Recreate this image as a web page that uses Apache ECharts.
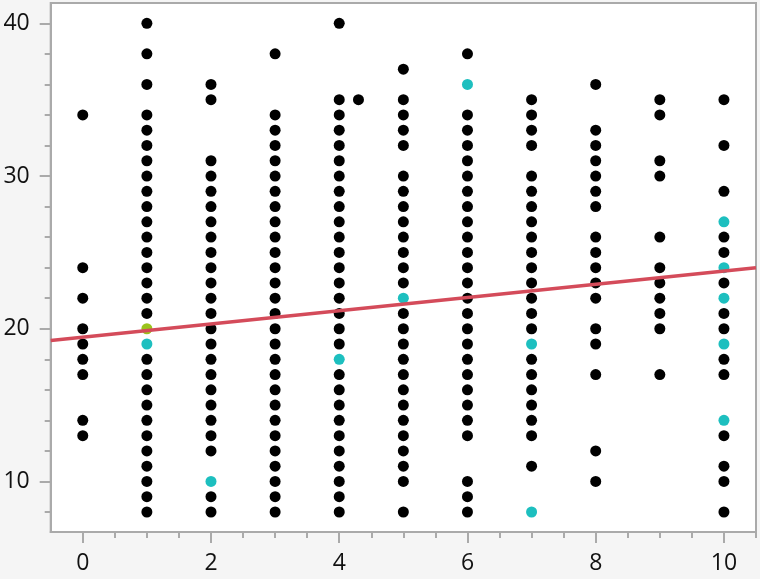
<!DOCTYPE html>
<html>
<head>
<meta charset="utf-8">
<script src="https://cdn.jsdelivr.net/npm/echarts@6/dist/echarts.min.js"></script>
<style>
    html, body { margin: 0; padding: 0; background: #f5f5f5; }
    #chart { width: 760px; height: 579px; }
</style>
</head>
<body>
<div id="chart"></div>
<script>
// black points, y values per x column
const col0 = [34, 24, 22, 20, 19, 18, 17, 14, 13];
const col1 = [40, 38, 36, 34, 33, 32, 31, 30, 29, 28, 27, 26, 25, 24, 23, 22, 21, 18, 17, 16, 15, 14, 13, 12, 11, 10, 9, 8];
const col2 = [36, 35, 31, 30, 29, 28, 27, 26, 25, 24, 23, 22, 21, 20, 19, 18, 17, 16, 15, 14, 13, 12, 9, 8];
const col3 = [38, 34, 33, 32, 31, 30, 29, 28, 27, 26, 25, 24, 23, 22, 21, 20, 19, 18, 17, 16, 15, 14, 13, 12, 11, 10, 9, 8];
const col4 = [40, 35, 34, 33, 32, 31, 30, 29, 28, 27, 26, 25, 24, 23, 22, 21, 20, 19, 17, 16, 15, 14, 13, 12, 11, 10, 9, 8];
const col5 = [37, 35, 34, 33, 32, 30, 29, 28, 27, 26, 25, 24, 23, 21, 20, 19, 18, 17, 16, 15, 14, 13, 12, 11, 10, 8];
const col6 = [38, 34, 33, 32, 31, 30, 29, 28, 27, 26, 25, 24, 23, 22, 21, 20, 19, 18, 17, 16, 15, 14, 13, 10, 9, 8];
const col7 = [35, 34, 33, 32, 30, 29, 28, 27, 26, 25, 24, 23, 22, 21, 20, 18, 17, 16, 15, 14, 13, 11];
const col8 = [36, 33, 32, 31, 30, 29, 28, 26, 25, 24, 23, 22, 20, 19, 17, 12, 10];
const col9 = [35, 34, 31, 30, 26, 24, 23, 22, 21, 20, 17];
const col10 = [35, 32, 29, 26, 25, 23, 21, 20, 18, 17, 13, 11, 10, 8];
const columns = [col0, col1, col2, col3, col4, col5, col6, col7, col8, col9, col10];
const extraPoints = [[4.3, 35]];

// highlighted points
const greenPoints = [[1, 20]];
const cyanPoints = [[1, 19], [2, 10], [4, 18], [5, 22], [6, 36], [7, 19], [7, 8],
    [10, 27], [10, 24], [10, 22], [10, 19], [10, 14]];

// fit line end points
const fitLine = [[-0.5, 19.23], [10.5, 24.0]];

// ticks
const xMajor = [0, 2, 4, 6, 8, 10];
const xMinor = [0.5, 1, 1.5, 2.5, 3, 3.5, 4.5, 5, 5.5, 6.5, 7, 7.5, 8.5, 9, 9.5, 10.5];
const yMajor = [10, 20, 30, 40];
const yMinor = [8, 12, 14, 16, 18, 22, 24, 26, 28, 32, 34, 36, 38];

const blackPoints = [];
columns.forEach((col, x) => {
    col.forEach(y => blackPoints.push([x, y]));
});
extraPoints.forEach(p => blackPoints.push(p));

const chart = echarts.init(document.getElementById('chart'));

const axisGray = '#aaaaaa';
const labelStyle = { color: '#111', fontSize: 23, fontFamily: 'Open Sans' };

const option = {
    backgroundColor: '#f5f5f5',
    animation: false,
    grid: {
        left: 50.7,
        right: 4,
        top: 3,
        bottom: 47,
        show: true,
        backgroundColor: '#fff',
        borderColor: axisGray,
        borderWidth: 2
    },
    xAxis: [
        {
            type: 'value',
            min: -0.5,
            max: 10.5,
            splitLine: { show: false },
            axisLine: { show: true, onZero: false, lineStyle: { color: axisGray, width: 2 } },
            axisTick: { show: true, length: 11, customValues: xMajor, lineStyle: { color: axisGray, width: 2 } },
            axisLabel: Object.assign({ customValues: xMajor, margin: 20 }, labelStyle)
        },
        {
            type: 'value',
            min: -0.5,
            max: 10.5,
            position: 'bottom',
            splitLine: { show: false },
            axisLine: { show: false, onZero: false },
            axisTick: { show: true, length: 6, customValues: xMinor, lineStyle: { color: axisGray, width: 2 } },
            axisLabel: { show: false }
        }
    ],
    yAxis: [
        {
            type: 'value',
            min: 6.69,
            max: 41.33,
            splitLine: { show: false },
            axisLine: { show: true, onZero: false, lineStyle: { color: axisGray, width: 2 } },
            axisTick: { show: true, length: 11, customValues: yMajor, lineStyle: { color: axisGray, width: 2 } },
            axisLabel: Object.assign({ customValues: yMajor, margin: 21 }, labelStyle)
        },
        {
            type: 'value',
            min: 6.69,
            max: 41.33,
            position: 'left',
            splitLine: { show: false },
            axisLine: { show: false, onZero: false },
            axisTick: { show: true, length: 6, customValues: yMinor, lineStyle: { color: axisGray, width: 2 } },
            axisLabel: { show: false }
        }
    ],
    series: [
        {
            type: 'scatter',
            data: blackPoints,
            symbolSize: 11,
            itemStyle: { color: '#000', opacity: 1 }
        },
        {
            type: 'scatter',
            data: greenPoints,
            symbolSize: 11,
            itemStyle: { color: '#9ac31c', opacity: 1 }
        },
        {
            type: 'scatter',
            data: cyanPoints,
            symbolSize: 11,
            itemStyle: { color: '#1dbfbf', opacity: 1 }
        },
        {
            type: 'line',
            data: fitLine,
            symbol: 'none',
            lineStyle: { color: '#d44b5a', width: 3.5 },
            z: 5
        }
    ]
};

chart.setOption(option);
</script>
</body>
</html>
